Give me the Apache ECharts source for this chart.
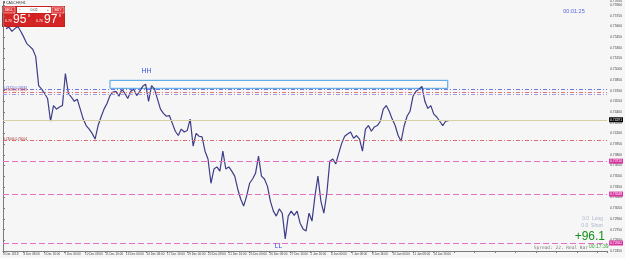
<!DOCTYPE html>
<html>
<head>
<meta charset="utf-8">
<script src="https://cdn.jsdelivr.net/npm/echarts@6/dist/echarts.min.js"></script>
<style>
html, body { margin: 0; padding: 0; background: #f6f6f6; }
#chart { width: 625px; height: 258px; }
</style>
</head>
<body>
<div id="chart"></div>
<script>
// CADCHF H1 closes, one reading every ~3 px of the picture
const closes = [
  0.7557, 0.7559, 0.7553, 0.7557, 0.7560, 0.7553, 0.7545, 0.7536, 0.7532, 0.7528,
  0.7518, 0.7477, 0.7472, 0.7466, 0.7459, 0.7427, 0.7449, 0.7444, 0.7447, 0.7449,
  0.7494, 0.7466, 0.7461, 0.7455, 0.7458, 0.7444, 0.7430, 0.7421, 0.7416, 0.7410,
  0.7402, 0.7421, 0.7433, 0.7444, 0.7452, 0.7463, 0.7468, 0.7469, 0.7462, 0.7472,
  0.7466, 0.7459, 0.7469, 0.7472, 0.7463, 0.7469, 0.7476, 0.7479, 0.7455, 0.7477,
  0.7472, 0.7458, 0.7444, 0.7438, 0.7434, 0.7435, 0.7424, 0.7413, 0.7407, 0.7416,
  0.7412, 0.7414, 0.7430, 0.7392, 0.7410, 0.7406, 0.7405, 0.7385, 0.7374, 0.7340,
  0.7360, 0.7363, 0.7357, 0.7385, 0.7360, 0.7363, 0.7357, 0.7350, 0.7332, 0.7318,
  0.7308, 0.7322, 0.7340, 0.7346, 0.7354, 0.7378, 0.7350, 0.7346, 0.7336, 0.7315,
  0.7301, 0.7294, 0.7304, 0.7298, 0.7262, 0.7294, 0.7301, 0.7295, 0.7301, 0.7284,
  0.7276, 0.7273, 0.7298, 0.7287, 0.7322, 0.7350, 0.7315, 0.7298, 0.7326, 0.7371,
  0.7374, 0.7367, 0.7382, 0.7396, 0.7406, 0.7409, 0.7412, 0.7403, 0.7407, 0.7402,
  0.7385, 0.7416, 0.7421, 0.7413, 0.7419, 0.7421, 0.7427, 0.7444, 0.7449, 0.7441,
  0.7430, 0.7421, 0.7407, 0.7399, 0.7420, 0.7434, 0.7441, 0.7462, 0.7469, 0.7472,
  0.7476, 0.7455, 0.7445, 0.7449, 0.7437, 0.7433, 0.7427, 0.7421, 0.7427, 0.7428
]
const timeLabels = [
  '3 Dec 2018', '4 Dec 08:00', '5 Dec 16:00', '7 Dec 00:00', '10 Dec 08:00', '11 Dec 16:00',
  '13 Dec 00:00', '14 Dec 08:00', '17 Dec 16:00', '19 Dec 00:00', '20 Dec 08:00', '21 Dec 16:00',
  '25 Dec 00:00', '26 Dec 08:00', '27 Dec 16:00', '2 Jan 16:00', '4 Jan 00:00', '7 Jan 08:00',
  '8 Jan 16:00', '10 Jan 00:00', '11 Jan 08:00', '14 Jan 16:00'
]
const yMin = 0.7245
const yMax = 0.7595
const yStep = 0.0015
const xMax = 203.33   // bar slots across the window
const labelStep = 6.9 // bar slots between time labels

const currentPrice = 0.74291
const upperLevels = [0.7472, 0.74683, 0.74648]
const redLevel = 0.74004
const pinkLevels = [0.7371, 0.73248, 0.72562]
const boxX = [36, 149.7]
const boxY = [0.74732, 0.74844]
const hhPoint = [48.3, 0.7497]
const llPoint = [92.7, 0.72515]

const font = 'Liberation Sans'
const dashDot = [4, 2, 1, 2]

const levelLines = [
  {
    yAxis: upperLevels[0],
    lineStyle: { color: '#6a78e6', type: dashDot, width: 1 },
    label: { show: true, position: 'insideStartTop', formatter: upperLevels[0].toFixed(5) + ' ' + upperLevels[1].toFixed(5), color: '#5a66d8', fontSize: 3.2, distance: 0 }
  },
  {
    yAxis: upperLevels[1],
    lineStyle: { color: '#e87474', type: dashDot, width: 1 },
    label: { show: true, position: 'insideStartTop', formatter: upperLevels[1].toFixed(5) + ' ' + upperLevels[2].toFixed(5), color: '#d85050', fontSize: 3.2, distance: 0 }
  },
  {
    yAxis: upperLevels[2],
    lineStyle: { color: '#a59ce6', type: dashDot, width: 1 },
    label: { show: false }
  },
  {
    yAxis: redLevel,
    lineStyle: { color: '#e26a6a', type: dashDot, width: 1 },
    label: { show: true, position: 'insideStartTop', formatter: redLevel.toFixed(5) + ' ' + redLevel.toFixed(5), color: '#a03030', fontSize: 3.2, distance: 0 }
  },
  {
    yAxis: currentPrice,
    lineStyle: { color: '#d8d0a2', type: 'solid', width: 1 },
    label: { show: true, position: 'end', formatter: currentPrice.toFixed(5), color: '#fff', backgroundColor: '#000', fontSize: 3.3, padding: [1, 1], distance: 2 }
  }
].concat(pinkLevels.map(v => ({
  yAxis: v,
  lineStyle: { color: '#e46fc4', type: [6, 3], width: 1 },
  label: { show: true, position: 'end', formatter: v.toFixed(5), color: '#fff', backgroundColor: '#d6339e', fontSize: 3.3, padding: [1, 1], distance: 2 }
})))

const chart = echarts.init(document.getElementById('chart'))
chart.setOption({
  backgroundColor: '#f6f6f6',
  animation: false,
  textStyle: { fontFamily: font },
  grid: { left: 0, right: 15, top: 0, bottom: 7 },
  xAxis: {
    type: 'value',
    min: 0,
    max: xMax,
    interval: labelStep,
    axisLine: { lineStyle: { color: '#7a7a7a', width: 1 } },
    axisTick: { show: true, length: 2, lineStyle: { color: '#7a7a7a' } },
    axisLabel: {
      fontSize: 3,
      color: '#444',
      align: 'left',
      margin: 2,
      showMinLabel: true,
      formatter: v => timeLabels[Math.round(v / labelStep)] || ''
    },
    splitLine: { show: false }
  },
  yAxis: {
    type: 'value',
    position: 'right',
    min: yMin,
    max: yMax,
    interval: yStep,
    axisLine: { show: true, lineStyle: { color: '#7a7a7a', width: 1 } },
    axisTick: { show: true, length: 2, lineStyle: { color: '#7a7a7a' } },
    axisLabel: { fontSize: 3.3, color: '#444', margin: 3, formatter: v => v.toFixed(5) },
    splitLine: { show: false }
  },
  series: [{
    type: 'line',
    data: closes.map((p, i) => [i + 1, p]),
    showSymbol: false,
    lineStyle: { color: '#3d3d88', width: 1.2 },
    markLine: { symbol: ['none', 'none'], silent: true, precision: 5, data: levelLines },
    markArea: {
      silent: true,
      itemStyle: { color: 'rgba(255,255,255,0.35)', borderColor: '#4a9fe0', borderWidth: 1 },
      data: [[{ coord: [boxX[0], boxY[1]] }, { coord: [boxX[1], boxY[0]] }]]
    },
    markPoint: {
      symbol: 'circle',
      symbolSize: 0,
      label: { show: true, color: '#2f4fe0', fontSize: 6.5 },
      data: [
        { coord: hhPoint, label: { formatter: 'HH' } },
        { coord: llPoint, label: { formatter: 'LL' } }
      ]
    }
  }],
  graphic: [
    { type: 'text', x: 3, y: 1, style: { text: '▾ CADCHF,H1', fontSize: 3.5, fill: '#333', fontFamily: font } },
    // one-click trading panel
    { type: 'rect', shape: { x: 2, y: 6, width: 63, height: 21 }, style: { fill: '#c81e1e' } },
    { type: 'rect', shape: { x: 3, y: 7, width: 12, height: 6 }, style: { fill: '#e23a3a', stroke: '#fff', lineWidth: 0.5 } },
    { type: 'text', x: 9, y: 10, style: { text: 'SELL', fontSize: 3.5, fill: '#fff', align: 'center', verticalAlign: 'middle', fontFamily: font } },
    { type: 'rect', shape: { x: 17, y: 7, width: 34, height: 6 }, style: { fill: '#fff' } },
    { type: 'text', x: 20, y: 10, style: { text: '−', fontSize: 4, fill: '#555', align: 'center', verticalAlign: 'middle', fontFamily: font } },
    { type: 'text', x: 34, y: 10, style: { text: '0.02', fontSize: 3.5, fill: '#333', align: 'center', verticalAlign: 'middle', fontFamily: font } },
    { type: 'text', x: 48, y: 10, style: { text: '+', fontSize: 4, fill: '#555', align: 'center', verticalAlign: 'middle', fontFamily: font } },
    { type: 'rect', shape: { x: 52, y: 7, width: 12, height: 6 }, style: { fill: '#e23a3a', stroke: '#fff', lineWidth: 0.5 } },
    { type: 'text', x: 58, y: 10, style: { text: 'BUY', fontSize: 3.5, fill: '#fff', align: 'center', verticalAlign: 'middle', fontFamily: font } },
    { type: 'rect', shape: { x: 3, y: 14, width: 30, height: 12 }, style: { fill: '#d42424' } },
    { type: 'rect', shape: { x: 34, y: 14, width: 30, height: 12 }, style: { fill: '#d42424' } },
    { type: 'text', x: 5, y: 21, style: { text: '0.74', fontSize: 3.5, fill: '#fff', verticalAlign: 'middle', fontFamily: font } },
    { type: 'text', x: 13, y: 20, style: { text: '95', fontSize: 12, fill: '#fff', verticalAlign: 'middle', fontFamily: font } },
    { type: 'text', x: 28, y: 16, style: { text: '8', fontSize: 3.5, fill: '#fff', verticalAlign: 'middle', fontFamily: font } },
    { type: 'text', x: 36, y: 21, style: { text: '0.74', fontSize: 3.5, fill: '#fff', verticalAlign: 'middle', fontFamily: font } },
    { type: 'text', x: 44, y: 20, style: { text: '97', fontSize: 12, fill: '#fff', verticalAlign: 'middle', fontFamily: font } },
    { type: 'text', x: 59, y: 16, style: { text: '8', fontSize: 3.5, fill: '#fff', verticalAlign: 'middle', fontFamily: font } },
    // timer and position info
    { type: 'text', x: 574, y: 11, style: { text: '00:01:25', fontSize: 5.5, fill: '#5566dd', align: 'center', verticalAlign: 'middle', fontFamily: font } },
    { type: 'text', x: 603, y: 219, style: { text: '0.0  Long', fontSize: 5, fill: '#a9b5c9', align: 'right', verticalAlign: 'middle', fontFamily: font } },
    { type: 'text', x: 603, y: 226, style: { text: '0.0  Short', fontSize: 5, fill: '#a9b5c9', align: 'right', verticalAlign: 'middle', fontFamily: font } },
    { type: 'text', x: 605, y: 237, style: { text: '+96.1', fontSize: 12, fill: '#13901a', align: 'right', verticalAlign: 'middle', fontFamily: font } },
    { type: 'text', x: 588, y: 248, style: { text: 'Spread: 22. Real Bar', fontSize: 4.5, fill: '#7a7a7a', align: 'right', verticalAlign: 'middle', fontFamily: 'DejaVu Sans Mono' } },
    { type: 'text', x: 589, y: 247, style: { text: '00:17:39', fontSize: 5, fill: '#3aa03a', verticalAlign: 'middle', fontFamily: font } }
  ]
})
</script>
</body>
</html>
